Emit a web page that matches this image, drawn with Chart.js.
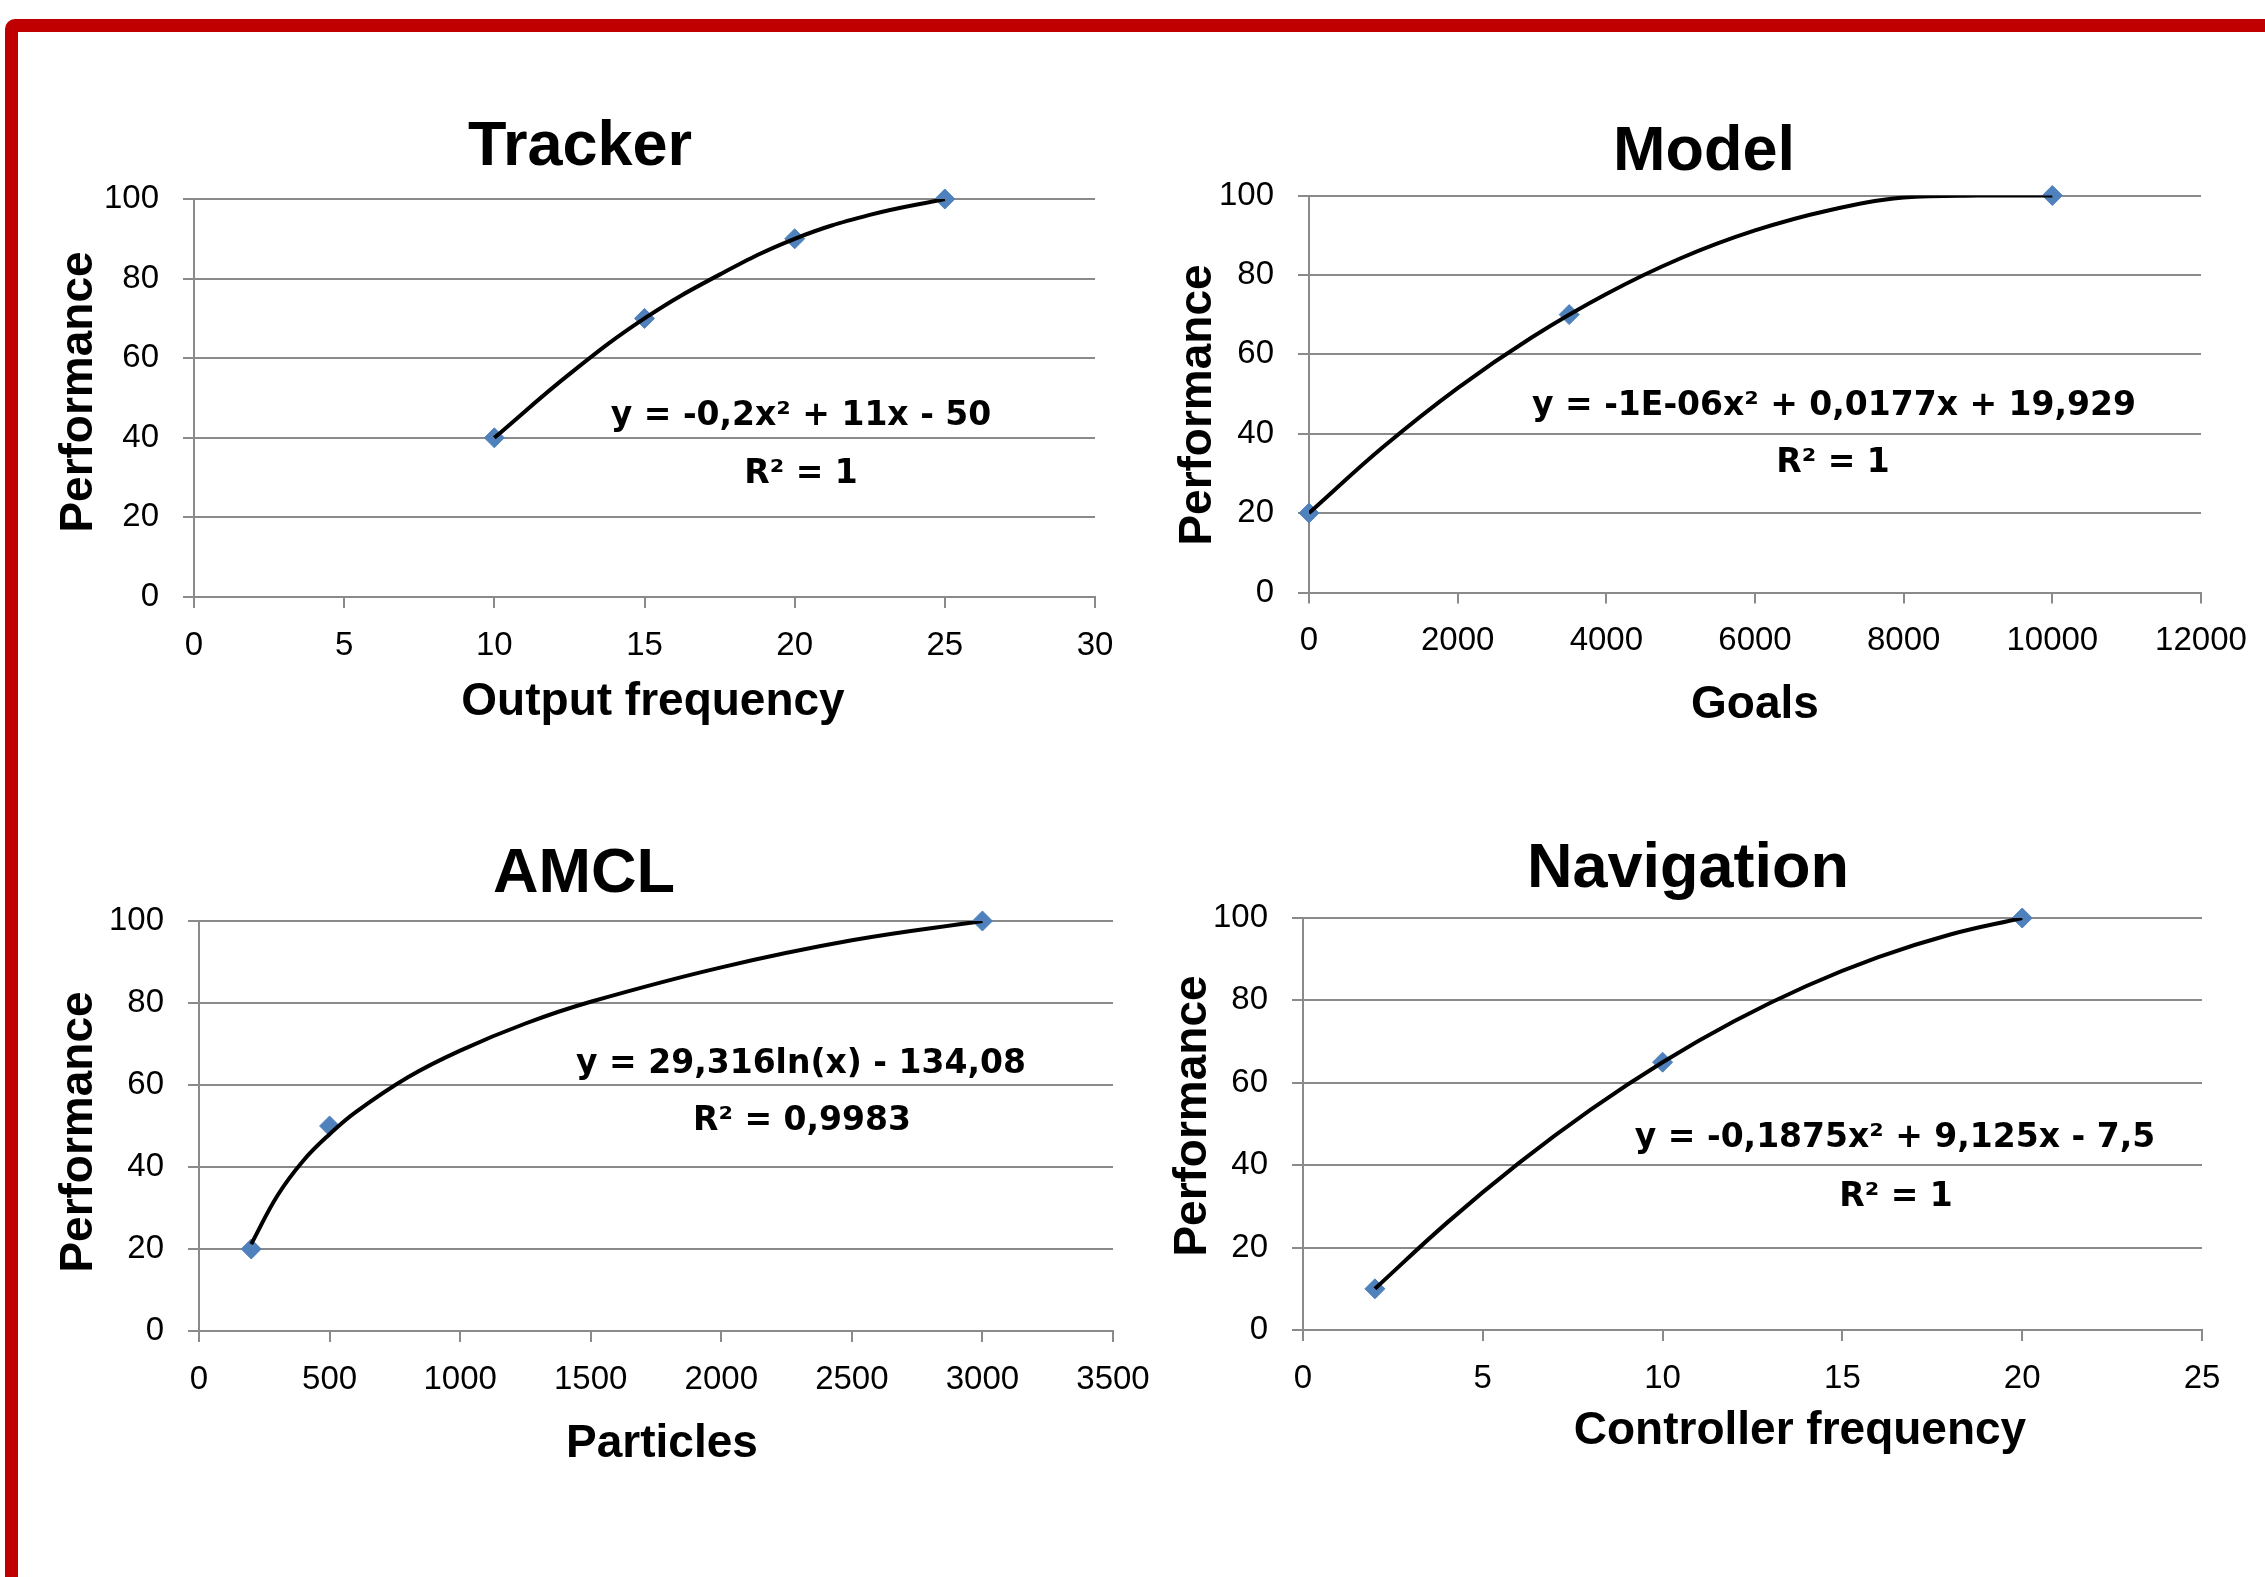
<!DOCTYPE html>
<html>
<head>
<meta charset="utf-8">
<title>Performance</title>
<script src="https://cdn.jsdelivr.net/npm/chart.js@4.4.1/dist/chart.umd.min.js"></script>
<style>
  html, body { margin: 0; padding: 0; background: #fff; }
  body { width: 2265px; height: 1577px; position: relative; overflow: hidden; }
  .frame {
    position: absolute; left: 5px; top: 19px; width: 2400px; height: 1600px;
    border: 13px solid #c00000; border-top-left-radius: 10px; box-sizing: border-box;
  }
  canvas { position: absolute; }
</style>
</head>
<body>
<div class="frame"></div>
<canvas id="trackerChart"></canvas>
<canvas id="modelChart"></canvas>
<canvas id="amclChart"></canvas>
<canvas id="navigationChart"></canvas>
<script>
// --- data ---
const perfTicks = [0, 20, 40, 60, 80, 100];

const trackerFreq = [10, 15, 20, 25];
const trackerPerf = [40, 70, 90, 100];
const trackerFitFreq = [10, 12.5, 15, 17.5, 20, 22.5, 25];
const trackerFitPerf = [40, 56, 70, 81, 90, 96, 100];
const trackerTicks = [0, 5, 10, 15, 20, 25, 30];

const modelGoals = [0, 3500, 10000];
const modelPerf = [20, 70, 100];
const modelFitGoals = [0, 1000, 2000, 3000, 4000, 5000, 6000, 7000, 8000, 9000, 10000];
const modelFitPerf = [20, 36.7, 51.5, 64.3, 75.2, 84.2, 91.2, 96.3, 99.5, 100, 100];
const modelTicks = [0, 2000, 4000, 6000, 8000, 10000, 12000];

const amclParticles = [200, 500, 3000];
const amclPerf = [20, 50, 100];
const amclFitParticles = [200, 300, 400, 500, 600, 800, 1000, 1250, 1500, 2000, 2500, 3000];
const amclFitPerf = [21.2, 33, 41.6, 48, 53.4, 61.9, 68.4, 75, 80.3, 88.7, 95.3, 100];
const amclTicks = [0, 500, 1000, 1500, 2000, 2500, 3000, 3500];

const navFreq = [2, 10, 20];
const navPerf = [10, 65, 100];
const navFitFreq = [2, 4, 6, 8, 10, 12, 14, 16, 18, 20];
const navFitPerf = [10, 26, 40.5, 53.5, 65, 75, 83.5, 90.5, 96, 100];
const navTicks = [0, 5, 10, 15, 20, 25];

const GRID = '#8a8a8a';
const MARKER = '#4f81bd';
const TICK_FONT = { family: '"Liberation Sans", Arial, sans-serif', size: 33 };
const TITLE_FONT = 'bold 63px "Liberation Sans", Arial, sans-serif';
const AXIS_FONT = 'bold 46px "Liberation Sans", Arial, sans-serif';
const EQ_FONT = 'bold 33px "DejaVu Sans", sans-serif';

function toPoints(xs, ys) {
    return xs.map((x, i) => ({ x: x, y: ys[i] }));
}

// draws titles, axis titles and trendline equations
const chartText = {
    id: 'chartText',
    afterDraw(chart, args, opts) {
        const ctx = chart.ctx;
        opts.items.forEach(t => {
            ctx.save();
            ctx.fillStyle = '#000';
            ctx.font = t.font;
            ctx.textAlign = 'center';
            ctx.textBaseline = 'alphabetic';
            ctx.translate(t.x - opts.box.left, t.y - opts.box.top);
            if (t.rotate) ctx.rotate(-Math.PI / 2);
            ctx.fillText(t.text, 0, 0);
            ctx.restore();
        });
    }
};

function createTrendChart(id, box, plot, xs, ys, fitXs, fitYs, xTicks, texts) {
    const canvas = document.getElementById(id);
    canvas.style.left = box.left + 'px';
    canvas.style.top = box.top + 'px';
    canvas.width = box.width;
    canvas.height = box.height;

    return new Chart(canvas, {
        type: 'scatter',
        data: {
            datasets: [{
                label: 'Trend',
                data: toPoints(fitXs, fitYs),
                showLine: true,
                borderColor: '#000',
                borderWidth: 4,
                pointRadius: 0,
                tension: 0.4
            }, {
                label: 'Performance',
                data: toPoints(xs, ys),
                pointStyle: 'rectRot',
                pointRadius: 10,
                backgroundColor: MARKER,
                borderColor: MARKER,
                borderWidth: 1,
                clip: false
            }]
        },
        options: {
            responsive: false,
            animation: false,
            events: [],
            layout: {
                padding: {
                    left: 0,
                    top: plot.top - box.top,
                    right: box.left + box.width - plot.right,
                    bottom: 0
                }
            },
            plugins: {
                legend: { display: false },
                tooltip: { enabled: false },
                chartText: { box: box, items: texts }
            },
            scales: {
                x: {
                    type: 'linear',
                    min: xTicks[0],
                    max: xTicks[xTicks.length - 1],
                    afterBuildTicks: s => { s.ticks = xTicks.map(v => ({ value: v })); },
                    afterFit: s => { s.height = box.top + box.height - plot.bottom; },
                    grid: { drawOnChartArea: false, drawTicks: true, tickLength: 11, color: GRID, lineWidth: 2 },
                    border: { color: GRID, width: 2 },
                    ticks: { font: TICK_FONT, color: '#000', padding: 18, maxRotation: 0, autoSkip: false, callback: v => String(v) }
                },
                y: {
                    min: 0,
                    max: 100,
                    afterBuildTicks: s => { s.ticks = perfTicks.map(v => ({ value: v })); },
                    afterFit: s => { s.width = plot.left - box.left; },
                    grid: { tickLength: 11, color: GRID, lineWidth: 2 },
                    border: { color: GRID, width: 2 },
                    ticks: { font: TICK_FONT, color: '#000', padding: 24, callback: v => String(v) }
                }
            }
        },
        plugins: [chartText]
    });
}

createTrendChart('trackerChart',
    { left: 20, top: 40, width: 1150, height: 700 },
    { left: 194, top: 199, right: 1095, bottom: 597 },
    trackerFreq, trackerPerf, trackerFitFreq, trackerFitPerf, trackerTicks, [
        { text: 'Tracker', x: 580, y: 165, font: TITLE_FONT },
        { text: 'Performance', x: 92, y: 392, font: AXIS_FONT, rotate: true },
        { text: 'Output frequency', x: 653, y: 715, font: AXIS_FONT },
        { text: 'y = -0,2x² + 11x - 50', x: 801, y: 425, font: EQ_FONT },
        { text: 'R² = 1', x: 801, y: 483, font: EQ_FONT }
    ]);

createTrendChart('modelChart',
    { left: 1150, top: 40, width: 1130, height: 700 },
    { left: 1309, top: 195.5, right: 2201, bottom: 592.5 },
    modelGoals, modelPerf, modelFitGoals, modelFitPerf, modelTicks, [
        { text: 'Model', x: 1704, y: 170, font: TITLE_FONT },
        { text: 'Performance', x: 1211, y: 405, font: AXIS_FONT, rotate: true },
        { text: 'Goals', x: 1755, y: 718, font: AXIS_FONT },
        { text: 'y = -1E-06x² + 0,0177x + 19,929', x: 1834, y: 415, font: EQ_FONT },
        { text: 'R² = 1', x: 1833, y: 472, font: EQ_FONT }
    ]);

createTrendChart('amclChart',
    { left: 20, top: 760, width: 1170, height: 780 },
    { left: 199, top: 921, right: 1113, bottom: 1331 },
    amclParticles, amclPerf, amclFitParticles, amclFitPerf, amclTicks, [
        { text: 'AMCL', x: 584, y: 892, font: TITLE_FONT },
        { text: 'Performance', x: 92, y: 1132, font: AXIS_FONT, rotate: true },
        { text: 'Particles', x: 662, y: 1457, font: AXIS_FONT },
        { text: 'y = 29,316ln(x) - 134,08', x: 801, y: 1073, font: EQ_FONT },
        { text: 'R² = 0,9983', x: 802, y: 1130, font: EQ_FONT }
    ]);

createTrendChart('navigationChart',
    { left: 1150, top: 760, width: 1130, height: 780 },
    { left: 1303, top: 918, right: 2202, bottom: 1330 },
    navFreq, navPerf, navFitFreq, navFitPerf, navTicks, [
        { text: 'Navigation', x: 1688, y: 887, font: TITLE_FONT },
        { text: 'Performance', x: 1206, y: 1116, font: AXIS_FONT, rotate: true },
        { text: 'Controller frequency', x: 1800, y: 1444, font: AXIS_FONT },
        { text: 'y = -0,1875x² + 9,125x - 7,5', x: 1895, y: 1147, font: EQ_FONT },
        { text: 'R² = 1', x: 1896, y: 1206, font: EQ_FONT }
    ]);
</script>
</body>
</html>
